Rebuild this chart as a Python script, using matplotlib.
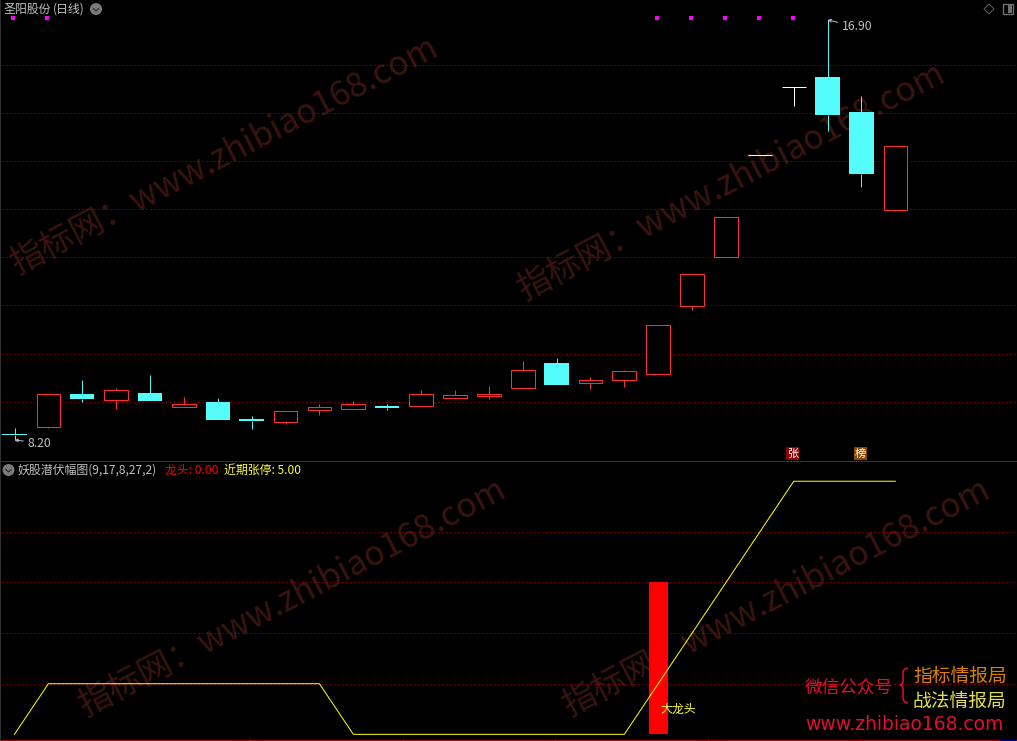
import matplotlib
matplotlib.use("Agg")
import matplotlib.pyplot as plt
from matplotlib.path import Path
from matplotlib.patches import PathPatch, Circle
from matplotlib.transforms import IdentityTransform

plt.rcParams['font.family'] = ['Noto Sans CJK SC', 'DejaVu Sans']

W, H = 1017, 741

opens = [8.28, 8.39, 8.88, 8.79, 8.89, 8.68, 8.76, 8.50, 8.46, 8.64, 8.65, 8.70, 8.69, 8.81,
         8.84, 8.97, 9.36, 9.05, 9.10, 9.19, 10.33, 11.24, 13.39, 15.05, 15.32, 14.43, 12.19]
highs = [8.37, 8.87, 9.09, 8.97, 9.17, 8.83, 8.82, 8.55, 8.62, 8.73, 8.77, 8.73, 8.94, 8.94,
         9.00, 9.40, 9.44, 9.14, 9.25, 9.99, 10.91, 12.03, 13.39, 15.05, 16.90, 14.83, 13.60]
lows = [8.20, 8.37, 8.75, 8.65, 8.77, 8.68, 8.49, 8.36, 8.43, 8.56, 8.65, 8.64, 8.69, 8.81,
        8.80, 8.97, 9.02, 8.95, 8.98, 9.19, 10.26, 11.24, 13.39, 14.58, 13.96, 12.68, 12.17]
closes = [8.27, 8.87, 8.80, 8.93, 8.77, 8.73, 8.49, 8.47, 8.62, 8.68, 8.73, 8.67, 8.87, 8.86,
          8.87, 9.25, 9.02, 9.10, 9.23, 9.99, 10.91, 12.03, 13.39, 15.05, 14.35, 12.97, 13.60]

price_grid = [15.64, 14.40, 13.26, 12.20, 11.23, 10.34, 9.51, 8.755]
signal_days = [0, 1, 19, 20, 21, 22, 23]
signal_price = 16.95

limit_line = [0, 1, 1, 1, 1, 1, 1, 1, 1, 1, 0, 0, 0, 0, 0, 0, 0, 0, 0, 1, 2, 3, 4, 5, 5, 5, 5]
dragon_day = 19
dragon_value = 3
lower_grid = [1, 2, 3, 4]
month_ticks = [6.95, 11.47, 15.95, 20.47, 24.96]

RED = '#ff3232'
CYAN = '#54fcfc'
GRID = '#c80000'
RAIL = '#b00000'
GREY = '#c0c0c0'
WM = '#3a140f'

PX = 0.71  # a hair under one pixel in points, so agg snaps it to a single row


def px_text(x, y, s, **kw):
    kw.setdefault('va', 'center')
    kw.setdefault('ha', 'left')
    return fig.text(x / W, 1 - y / H, s, **kw)


def drop_icon(x, y):
    # the little round pull-down button
    fig.add_artist(Circle((x, H - y), 6, transform=IdentityTransform(), fc='#7a7a7a', ec='none'))
    path = Path([(x - 3, H - y + 1), (x, H - y - 2), (x + 3, H - y + 1)])
    fig.add_artist(PathPatch(path, transform=IdentityTransform(), fc='none', ec='#202020', lw=PX))


def dotted(a, values):
    # start on a whole pixel so the dots stay crisp
    for v in values:
        a.plot([2 / W, 1], [v, v], transform=a.get_yaxis_transform(), color=GRID, lw=PX,
               linestyle=(0, (1.014, 3.042)), dash_capstyle='butt', snap=True, zorder=1)


fig = plt.figure(figsize=(W / 100, H / 100), dpi=100, facecolor='black')
ax = fig.add_axes([0, 1 - 461 / H, 1, 461 / H], facecolor='none')
ax2 = fig.add_axes([0, 0, 1, 280 / H], facecolor='none')

days = list(range(len(opens)))
for a in (ax, ax2):
    a.tick_params(which='both', left=False, bottom=False, labelleft=False, labelbottom=False)
    for s in a.spines.values():
        s.set_visible(False)
    a.spines['left'].set_visible(True)
    a.spines['left'].set_color('#3a3a3a')
    a.spines['left'].set_linewidth(1.2)

ax.set_yscale('log')
ax.tick_params(which='both', left=False, labelleft=False)
ax.spines['bottom'].set_visible(True)
ax.spines['bottom'].set_color(RAIL)
ax.spines['bottom'].set_linewidth(PX)

dotted(ax, price_grid)

# candles
for i in days:
    o, h, l, c = opens[i], highs[i], lows[i], closes[i]
    top, bot = max(o, c), min(o, c)
    if c > o:
        col = RED
    elif c < o:
        col = CYAN
    else:
        col = 'white'
    ax.vlines(i, top, h, color=col, lw=PX, zorder=2)
    ax.vlines(i, l, bot, color=col, lw=PX, zorder=2)
    if c == o:
        ax.hlines(o, i - 0.35, i + 0.35, color=col, lw=PX, zorder=3)
    elif c > o:
        ax.bar(i, top - bot, bottom=bot, width=0.70, facecolor='black', edgecolor=col, lw=PX, zorder=3)
    else:
        ax.bar(i, top - bot, bottom=bot, width=0.72, facecolor=col, edgecolor='none', zorder=3)

ax.scatter([d - 0.03 for d in signal_days], [signal_price] * len(signal_days),
           marker='s', s=5, color='#ff00ff', linewidths=0, zorder=4)

ax.annotate('8.20', xy=(0, lows[0]), xytext=(13, -3), textcoords='offset pixels',
            color=GREY, fontsize=8.8, va='center',
            arrowprops=dict(arrowstyle='->', color=GREY, lw=PX, shrinkA=1, shrinkB=0,
                            mutation_scale=5))
ax.annotate('16.90', xy=(24, highs[24]), xytext=(14, -7), textcoords='offset pixels',
            color=GREY, fontsize=8.8, va='center',
            arrowprops=dict(arrowstyle='->', color=GREY, lw=PX, shrinkA=1, shrinkB=0,
                            mutation_scale=5))

# lower panel
dotted(ax2, lower_grid)
ax2.hlines(-0.103, -0.428, 29.59, color=RAIL, lw=PX, zorder=2)
ax2.vlines(month_ticks, -0.103, -0.08, color=RAIL, lw=PX, zorder=2)
ax2.hlines(-0.118, 29.09, 29.56, color='#0000b0', lw=PX, zorder=3)
ax2.bar(dragon_day, dragon_value, width=0.56, color='#ff0000', zorder=3)
ax2.plot(days, limit_line, color='#ffff00', lw=0.72, zorder=4)
ax2.annotate('大龙头', xy=(dragon_day, 0.5), xytext=(2, 0), textcoords='offset pixels',
             color='#ffff33', fontsize=8.6, va='center', zorder=5)

ax.set_xlim(-0.428, 29.59)
ax.set_ylim(7.909, 17.49)
ax2.set_xlim(-0.428, 29.59)
ax2.set_ylim(-0.132, 5.40)

# headers
px_text(4, 9, '圣阳股份', color=GREY, fontsize=8.6)
px_text(53, 9, '(日线)', color=GREY, fontsize=8.6)
drop_icon(96, 9)
px_text(18, 470, '妖股潜伏幅图(9,17,8,27,2)', color=GREY, fontsize=8.6)
drop_icon(8.5, 470)
px_text(165, 470, '龙头: 0.00', color='#ff0000', fontsize=8.6)
px_text(224, 470, '近期张停: 5.00', color='#ffff33', fontsize=8.6)

# top right buttons
fig.add_artist(PathPatch(Path([(989, H - 4), (994, H - 9), (989, H - 14), (984, H - 9), (989, H - 4)]),
                         transform=IdentityTransform(), fc='none', ec='#606060', lw=PX))
fig.add_artist(PathPatch(Path([(1003, H - 4), (1013, H - 4), (1013, H - 14), (1003, H - 14), (1003, H - 4)]),
                         transform=IdentityTransform(), fc='none', ec='#707070', lw=1.0))
fig.add_artist(PathPatch(Path([(1008, H - 5), (1012, H - 5), (1012, H - 13), (1008, H - 13), (1008, H - 5)]),
                         transform=IdentityTransform(), fc='#707070', ec='none'))

# tag boxes above the divider
for x, tag, col in [(792.5, '张', '#8b0000'), (860.5, '榜', '#8b4500')]:
    px_text(x, 453.5, tag, color='white', fontsize=8, ha='center',
            bbox=dict(boxstyle='square,pad=0.1', fc=col, ec='none'))

# watermarks
for x, y in [(18, 274), (525, 300), (86, 716), (570, 716)]:
    px_text(x, y, '指标网：www.zhibiao168.com', color=WM, fontsize=24.4, rotation=27.5,
            rotation_mode='anchor', va='baseline', zorder=-1)

# promo block bottom right
px_text(805, 689, '微信公众号', color='#e0102a', fontsize=12.7)
px_text(913, 676, '指标情报局', color='#e07f00', fontsize=13.5)
px_text(913, 701, '战法情报局', color='#e0e050', fontsize=13.5)
px_text(805, 725, 'www.zhibiao168.com', color='#e0102a', fontsize=13.5, family='DejaVu Sans')
brace = Path([(908, H - 668), (902, H - 668), (903, H - 676), (904, H - 685), (900, H - 685),
              (904, H - 685), (903, H - 694), (902, H - 703), (908, H - 703)],
             [Path.MOVETO, Path.CURVE3, Path.CURVE3, Path.CURVE3, Path.CURVE3,
              Path.CURVE3, Path.CURVE3, Path.CURVE3, Path.CURVE3])
fig.add_artist(PathPatch(brace, transform=IdentityTransform(), fc='none', ec='#e0102a', lw=1.1))

fig.savefig('out.png', dpi=100, facecolor='black')
